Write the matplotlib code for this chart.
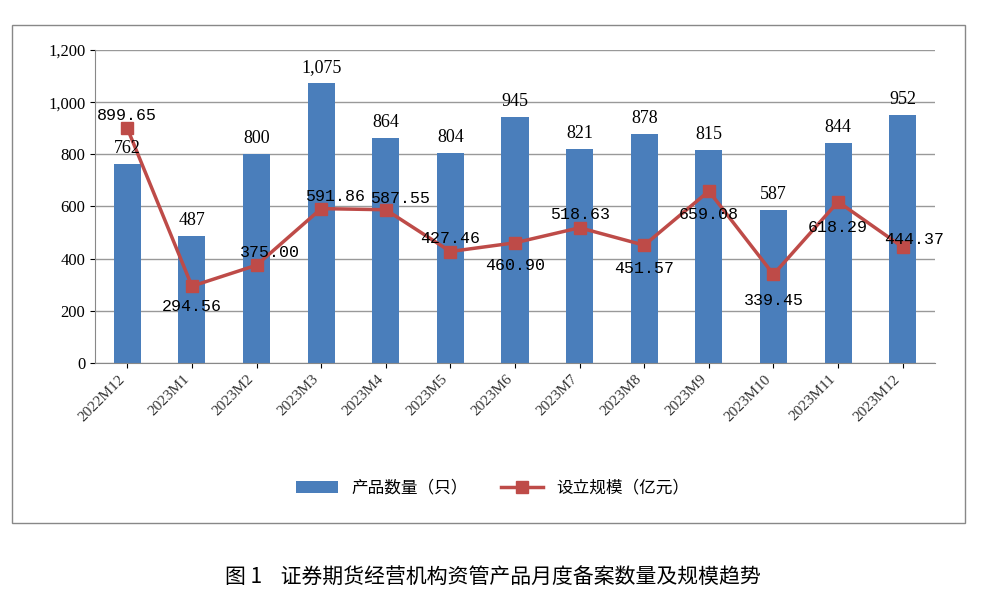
import matplotlib.pyplot as plt
import numpy as np

cjk = ['Noto Sans CJK JP', 'Noto Sans CJK SC', 'Noto Sans CJK TC', 'Noto Sans CJK KR']
plt.rcParams['font.family'] = ['Liberation Serif'] + cjk

months = ['2022M12', '2023M1', '2023M2', '2023M3', '2023M4', '2023M5', '2023M6',
          '2023M7', '2023M8', '2023M9', '2023M10', '2023M11', '2023M12']
counts = [762, 487, 800, 1075, 864, 804, 945, 821, 878, 815, 587, 844, 952]
scale = [899.65, 294.56, 375.00, 591.86, 587.55, 427.46, 460.90,
         518.63, 451.57, 659.08, 339.45, 618.29, 444.37]
# label offsets for the line values (points)
line_off = [(0, 4), (0, -20), (10, 4), (10, 3), (10, 3), (0, 4), (0, -22),
            (0, 4), (0, -22), (0, -22), (0, -24), (0, -24), (8, 0)]

fig = plt.figure(figsize=(9.85, 5.98), dpi=100)
fig.patches.append(plt.Rectangle((12/985, 75/598), 953/985, 498/598, transform=fig.transFigure,
                                 fill=False, edgecolor='#888888', lw=1))
ax = fig.add_axes([95/985, 235/598, 840/985, 313/598])
x = np.arange(len(months))
bars = ax.bar(x, counts, width=0.42, color='#4A7EBB', zorder=2)
line, = ax.plot(x, scale, color='#BE4B48', lw=2.5, marker='s', markersize=8, zorder=3)

for i, v in enumerate(counts):
    ax.annotate(f'{v:,}', (i, v), xytext=(0, 5), textcoords='offset points',
                ha='center', va='bottom', fontsize=13)
for i, v in enumerate(scale):
    ax.annotate(f'{v:.2f}', (i, v), xytext=line_off[i], textcoords='offset points',
                ha='center', va='bottom', fontsize=12, family='Liberation Mono')

ax.set_ylim(0, 1200)
ax.set_xlim(-0.5, len(months) - 0.5)
ax.set_yticks(range(0, 1201, 200))
ax.set_yticklabels([f'{t:,}' for t in range(0, 1201, 200)], fontsize=12)
ax.set_xticks(x)
ax.set_xticklabels(months, rotation=45, ha='right', fontsize=11, color='#333333')
ax.grid(axis='y', color='#999999', lw=1, zorder=0)
for s in ['top', 'right']:
    ax.spines[s].set_visible(False)
ax.spines['left'].set_color('#888888')
ax.spines['bottom'].set_color('#888888')

fig.legend([bars, line], ['产品数量（只）', '设立规模（亿元）'], loc='center',
           bbox_to_anchor=(0.5, 110/598), ncol=2, frameon=False,
           prop={'family': cjk, 'size': 12}, handlelength=2.5)
fig.text(0.5, 20/598, '图 1    证券期货经营机构资管产品月度备案数量及规模趋势',
         ha='center', va='center', fontsize=15, family=cjk)

fig.savefig('out.png', dpi=100)
